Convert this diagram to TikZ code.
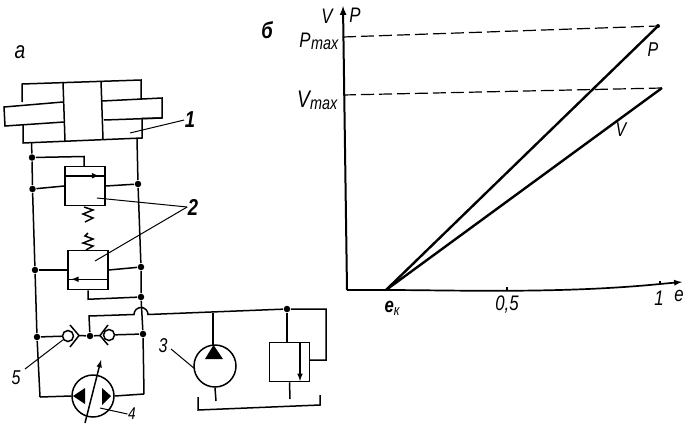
\documentclass[tikz,border=0pt]{standalone}
\usepackage{fontspec}
\setmainfont{Liberation Sans}[FakeStretch=.8]
\usetikzlibrary{positioning}
\usetikzlibrary{calc}

\tikzset{
    dot/.style={circle, fill, inner sep=0, minimum size=6.5pt},
    valve/.style={draw, inner sep=0, minimum width=40pt, minimum height=39pt},
    machine/.style={draw, circle, inner sep=0, minimum size=42pt},
    ball/.style={draw, circle, inner sep=0, minimum size=11pt},
    txt/.style={inner sep=0, font=\itshape\fontsize{21}{21}\selectfont},
    small/.style={inner sep=0, font=\itshape\fontsize{20}{20}\selectfont},
    bold/.style={inner sep=0, font=\bfseries\itshape\fontsize{23}{23}\selectfont},
}

\begin{document}
\begin{tikzpicture}[x=1pt, y=-1pt, >=latex, line width=1.5pt]

\useasboundingbox (0,0) rectangle (693,424);

% cylinder
\draw (22,102) -- (22,84) -- (141,80) -- (141,99)
    (162,118) -- (142,118.5) -- (142,138) -- (23,143) -- (23,124.5);
\draw (63,82) -- (65,141) (101,81) -- (103,139);
\draw (63,102) -- (4,107) -- (5,126) -- (64,122);
\draw (102,101) -- (162,98) -- (162,118) -- (104,120);

% lines and dots
\node[dot] (d1) at (32,157.5) {};
\node[dot] (d2) at (32.5,189) {};
\node[dot] (d3) at (138,184) {};
\node[dot] (d4) at (35,270) {};
\node[dot] (d5) at (141,267) {};
\node[dot] (d6) at (141,297) {};
\node[dot] (d7) at (37,337) {};
\node[dot] (d8) at (143,334) {};
\node[dot] (d9) at (90,336) {};
\node[dot] (d10) at (287,309) {};

\coordinate (cylL) at (31.5,142.5);
\coordinate (cylR) at (137,138.5);
\coordinate (hopL) at (134,314.5);
\coordinate (cornL) at (40,397);
\coordinate (cornR) at (144,394);

\draw (cylL) -- (d1) -- (d2) -- (d4) -- (d7) -- (cornL);
\draw (cylR) -- (d3) -- (d5) -- (d6) -- (d8) -- (cornR);

% valves
\node[valve] (valve1) at (85,186) {};
\node[valve] (valve2) at (88,270) {};

\draw[->] ($(valve1.north west)+(0,10)$) coordinate (v1a) -- ++(35,0);
\draw (v1a) -- (valve1.east |- v1a);
\draw (d1) -- (84,156.5) -- (valve1.north -| 84,0);
\draw (d2) -- (valve1.west);
\draw (valve1.east) -- (d3);

\draw ($(valve2.south west)+(0,-11)$) coordinate (v2a) -- (valve2.east |- v2a);
\draw[->] (valve2.east |- v2a) -- ($(v2a)+(4,0)$);
\draw (d4) -- (valve2.west);
\draw (valve2.east) -- (d5);
\draw (valve2.south) -- ++(0,9) -- (d6);

% springs
\draw (84,207) -- ++(9,3) -- ++(-10,4) -- ++(10,4) -- ++(-8,4);
\draw (86,250) -- ++(7,-4) -- ++(-10,-3) -- ++(10,-4) -- ++(-8,-3) -- ++(3,-3);

% check valves
\node[ball] (ball1) at (68,336) {};
\node[ball] (ball2) at (109,335) {};
\draw (70,325) -- (79,335.5) -- (70,347);
\draw (108,325) -- (100,335.5) -- (108,345);
\draw (d7) -- (ball1);
\draw (79,335.5) -- (d9) -- (100,335.5);
\draw (ball2) -- (d8);

% crossing over
\draw (d9) -- (89,316) -- (hopL) arc[start angle=180, end angle=360, radius=7]
    -- (d10) -- (326,309) -- (326,360) -- (309.5,360);

% motor
\node[machine] (motor) at (93,396) {};
\fill (85,388) -- (85,404) -- (73,396) -- cycle;
\fill (102,388) -- (102,405) -- (111,396) -- cycle;
\draw[->] (85,423) -- (101,360);
\draw (cornL) -- (motor.west);
\draw (motor.east) -- (cornR);

% pump and relief
\node[machine] (pump) at (215,366) {};
\fill (213.5,345) -- (205,359) -- (223,359) -- cycle;
\draw (213,313) -- (213,345);
\draw (pump.south) -- (216,401);

\node[valve] (valve3) at (289.5,362) {};
\draw (d10) -- (valve3.north -| d10);
\draw[->] (300,342) -- (300,381);
\draw (valve3.south) -- (290,399);

% tank
\draw (198,397) -- (198,410) -- (320,405) -- (320,395);

% leaders
\node[bold] (lab1) at (190,120) {1};
\node[bold] (lab2) at (193,207) {2};
\node[small] (lab3) at (163,346) {3};
\node[small, font=\itshape\fontsize{17}{17}\selectfont] (lab4) at (132,414) {4};
\node[small] (lab5) at (16,378) {5};
\draw[line width=1pt] (130,133) -- (lab1.west);
\draw[line width=1pt] (97,198) -- (lab2.west);
\draw[line width=1pt] (95,261) -- (lab2.west);
\draw[line width=1pt] (171,349) -- (195,369);
\draw[line width=1pt] (25,369) -- (ball1);
\draw[line width=1pt] (100,408) -- (lab4.west);

\node[small, font=\itshape\fontsize{24}{24}\selectfont] (labA) at (20,52) {а};
\node[bold] (labB) at (267,30) {б};

% graph
\coordinate (orig) at (347,290);
\coordinate (ek) at (386,290);
\coordinate (endP) at (658,26);
\coordinate (endV) at (662,88);
\coordinate (tickH) at (507,290);
\coordinate (tick1) at (660,284);

\draw[line width=2pt, ->] (orig) -- (343,6);
\draw[line width=1.7pt, ->] (orig) -- (ek) .. controls (450,290) and (560,294) .. (tick1) -- (682,282);
\draw (tickH) ++(0,-3) -- ++(0,3);
\draw (tick1) ++(0,-3) -- ++(0,3);

\draw[line width=2.4pt] (ek) -- (endP);
\draw[line width=2.4pt] (ek) -- (endV);
\draw[dash pattern=on 13pt off 5pt, line width=1.2pt] (343,37) -- (endP);
\draw[dash pattern=on 13pt off 5pt, line width=1.2pt] (343,95) -- (endV);
\fill (endP) circle (2pt);

\node[txt] (axV) at (327,16) {V};
\node[txt] (axP) at (355,15) {P};
\node[txt, anchor=east] (pmax) at (339,41) {P\kern.5pt\raisebox{-2pt}{\fontsize{18}{18}\selectfont max}};
\node[txt, anchor=east] (vmax) at (338,100) {\fontsize{24}{24}\selectfont V\raisebox{-2pt}{\fontsize{18}{18}\selectfont max}};
\node[small] (curveP) at (653,50) {P};
\node[small] (curveV) at (621,130) {V};
\node[txt] (axE) at (679,296) {e};
\node[txt] (ax1) at (659,298) {1};
\node[txt] (ax05) at (507,305) {0,5};
\node[txt] (ekLab) at (392,308) {\textbf{e}\raisebox{-3pt}{\fontsize{15}{15}\selectfont к}};

\end{tikzpicture}
\end{document}
